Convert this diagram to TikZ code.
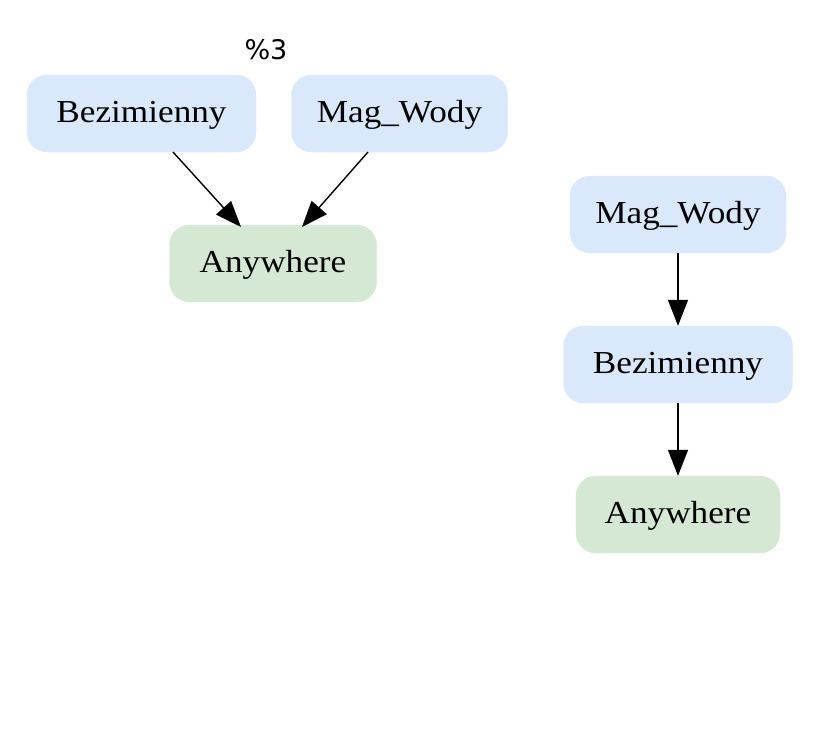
\documentclass[tikz,border=0pt]{standalone}
\usepackage{fontspec}
\setmainfont{Liberation Serif}[FakeStretch=1.1]
\newfontfamily\labelfont{DejaVu Sans}
\usetikzlibrary{arrows.meta}
\definecolor{nodeblue}{HTML}{DAE8FC}
\definecolor{nodegreen}{HTML}{D5E8D4}
\newcommand{\nodetxt}[1]{\raisebox{0pt}[23pt][6pt]{#1}}
\tikzset{
  gnode/.style={rounded corners=20pt, inner sep=0pt, minimum height=77pt,
    font=\fontsize{32}{36}\selectfont, text=black},
  bluenode/.style={gnode, fill=nodeblue, draw=nodeblue},
  greennode/.style={gnode, fill=nodegreen, draw=nodegreen},
  edge/.style={-{Triangle[length=26pt,width=20pt]}, line width=1.4pt, black},
}
\begin{document}
\begin{tikzpicture}[x=1pt,y=-1pt]
\useasboundingbox (0,0) rectangle (820,731);
\node[font=\labelfont\fontsize{27}{30}\selectfont] (title) at (266,50) {\%3};
\node[bluenode, minimum width=229pt] (b1) at (141.5,113.5) {\nodetxt{Bezimienny}};
\node[bluenode, minimum width=216pt] (m1) at (399.5,113.5) {\nodetxt{Mag\_Wody}};
\node[greennode, minimum width=207pt] (a1) at (273,263.5) {\nodetxt{Anywhere}};
\node[bluenode, minimum width=216pt] (m2) at (678,214.5) {\nodetxt{Mag\_Wody}};
\node[bluenode, minimum width=229pt] (b2) at (678,364.5) {\nodetxt{Bezimienny}};
\node[greennode, minimum width=204pt] (a2) at (678,514.5) {\nodetxt{Anywhere}};
\coordinate (b1s) at (173,152);
\coordinate (m1s) at (368,152);
\coordinate (a1l) at (241,227);
\coordinate (a1r) at (302,227);
\draw[edge] (b1s) -- (a1l);
\draw[edge] (m1s) -- (a1r);
\draw[edge] (m2.south) -- (b2.north);
\draw[edge] (b2.south) -- (a2.north);
\end{tikzpicture}
\end{document}
